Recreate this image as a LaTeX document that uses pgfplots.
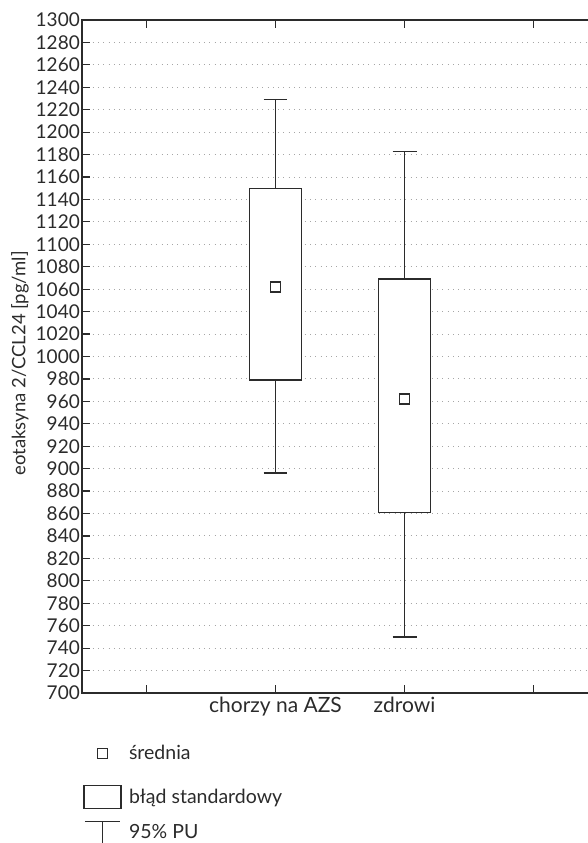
\documentclass[border=0pt]{standalone}
\usepackage{fontspec}
\setmainfont{Lato}
\usepackage{pgfplots}
\pgfplotsset{compat=1.18}
\definecolor{ink}{HTML}{2B2B2B}
\begin{document}
\begin{tikzpicture}
\path[use as bounding box, clip] (0,0) rectangle (588pt,843pt);
\begin{axis}[
  at={(82pt,150pt)}, anchor=south west,
  scale only axis, width=516pt, height=673pt,
  xmin=0.5, xmax=4.5, ymin=700, ymax=1300,
  ytick distance=20,
  xtick={1,2,3,4}, xticklabels={,chorzy na AZS,zdrowi,},
  ytick pos=left,
  tick align=inside,
  major tick length=8pt,
  ymajorgrids,
  grid style={gray!70, line width=1pt, dash pattern=on 1pt off 4.3pt},
  axis line style={ink, line width=1.2pt},
  tick style={ink, line width=1.2pt},
  /pgf/number format/assume math mode=true,
  /pgf/number format/1000 sep={},
  yticklabel style={font=\fontsize{19}{20}\selectfont, text=ink, inner sep=2pt},
  xticklabel style={font=\fontsize{21}{22}\selectfont, text=ink},
  ylabel={eotaksyna 2/CCL24 [pg/ml]},
  ylabel style={font=\fontsize{18.5}{20}\selectfont, text=ink, at={(axis description cs:-0.12,0.49)}, anchor=center},
  legend style={at={(axis description cs:0,0)}, anchor=north west, yshift=-37pt, xshift=-2pt, draw=none, fill=none,
    font=\fontsize{19.5}{21}\selectfont, text=ink, row sep=10pt, nodes={inner ysep=0.5pt}},
  legend cell align=left,
]
% whiskers (95% PU)
\addplot[ink, line width=1.5pt, mark=none, forget plot] coordinates {(2,896) (2,1229)};
\addplot[ink, line width=1.4pt, mark=none, forget plot] coordinates {(1.907,1229) (2.093,1229)};
\addplot[ink, line width=1.4pt, mark=none, forget plot] coordinates {(1.907,896) (2.093,896)};
\addplot[ink, line width=1.5pt, mark=none, forget plot] coordinates {(3,750) (3,1183)};
\addplot[ink, line width=1.4pt, mark=none, forget plot] coordinates {(2.907,1183) (3.093,1183)};
\addplot[ink, line width=1.4pt, mark=none, forget plot] coordinates {(2.907,750) (3.093,750)};
% boxes (standard error)
\addplot[draw=ink, fill=white, line width=1.4pt, mark=none, forget plot]
  coordinates {(1.8,979) (2.2,979) (2.2,1150) (1.8,1150)} --cycle;
\addplot[draw=ink, fill=white, line width=1.4pt, mark=none, forget plot]
  coordinates {(2.8,861) (3.2,861) (3.2,1069) (2.8,1069)} --cycle;
% means
\addplot[only marks, mark=square, mark size=5pt, mark options={line width=1.3pt, draw=ink, fill=white}, forget plot]
  coordinates {(2,1062) (3,962)};
\addlegendimage{legend image code/.code={
  \path (0pt,-21pt) (43pt,21pt);
  \draw[ink, line width=1.3pt] (13.5pt,-5pt) rectangle (23.5pt,5pt);}}
\addlegendentry{średnia}
\addlegendimage{legend image code/.code={
  \path (0pt,-12pt) (43pt,12pt);
  \draw[ink, line width=1.3pt] (0pt,-11.5pt) rectangle (37pt,11.5pt);}}
\addlegendentry{błąd standardowy}
\addlegendimage{legend image code/.code={
  \path (0pt,-13pt) (43pt,13pt);
  \draw[ink, line width=1.3pt] (1pt,11pt) -- (36pt,11pt) (18.5pt,11pt) -- (18.5pt,-30pt);}}
\addlegendentry{95\% PU}
\end{axis}
\end{tikzpicture}
\end{document}
